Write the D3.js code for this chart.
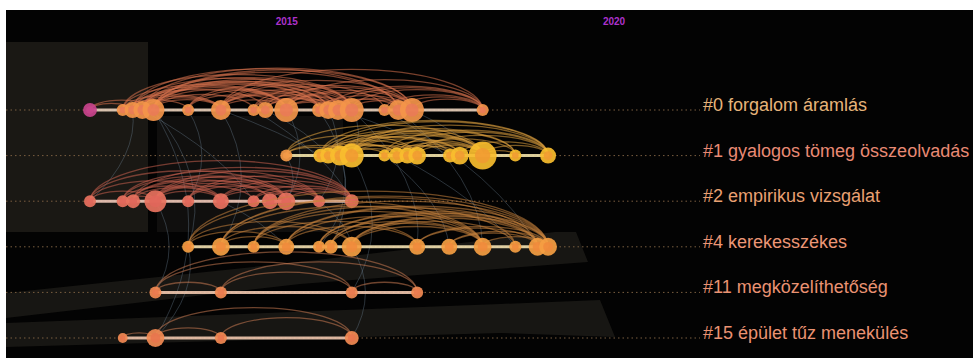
<!DOCTYPE html>
<html>
<head>
<meta charset="utf-8">
<script src="https://cdn.jsdelivr.net/npm/d3@7"></script>
<style>
    html, body { margin: 0; padding: 0; background: #fff; }
    svg { display: block; }
</style>
</head>
<body>
<svg id="chart" width="973" height="360"></svg>
<script>
// cluster rows of the timeline view
const clusterIds = ["#0", "#1", "#2", "#4", "#11", "#15"];
const clusterLabels = [
    "forgalom áramlás",
    "gyalogos tömeg összeolvadás",
    "empirikus vizsgálat",
    "kerekesszékes",
    "megközelíthetőség",
    "épület tűz menekülés",
];
const yearTicks = [2015, 2020];

// publication year and citation count of every node, per cluster
const c0Years = [2012, 2012.5, 2012.65, 2012.8, 2012.97, 2013.5, 2014, 2014.5, 2014.68, 2015, 2015.5, 2015.64, 2015.79, 2016, 2016.5, 2016.71, 2016.92, 2018];
const c0Cites = [12, 9, 16, 20, 30, 9, 25, 9, 16, 36, 12, 20, 25, 36, 9, 25, 36, 9];
const c1Years = [2015, 2015.52, 2015.64, 2015.82, 2016, 2016.5, 2016.69, 2016.85, 2017, 2017.5, 2017.65, 2018, 2018.5, 2019];
const c1Cites = [9, 12, 16, 25, 36, 9, 16, 16, 20, 12, 20, 49, 9, 16];
const c2Years = [2012, 2012.5, 2012.66, 2013, 2013.5, 2014, 2014.5, 2014.75, 2015, 2015.5, 2016];
const c2Cites = [9, 9, 12, 30, 9, 16, 9, 16, 20, 9, 12];
const c4Years = [2013.5, 2014, 2014.5, 2015, 2015.5, 2015.68, 2016, 2017, 2017.49, 2018, 2018.5, 2018.84, 2019];
const c4Cites = [9, 20, 9, 16, 9, 12, 25, 16, 16, 20, 9, 20, 20];
const c11Years = [2013, 2014, 2016, 2017];
const c11Cites = [9, 9, 9, 9];
const c15Years = [2012.5, 2013, 2014, 2016];
const c15Cites = [6, 20, 9, 12];

// co-citation links inside a cluster (node index pairs)
const c0Links = [
    [0, 4], [1, 6], [2, 9], [3, 13], [4, 16], [1, 9], [2, 6], [3, 10], [4, 13], [4, 9],
    [5, 9], [6, 13], [6, 16], [6, 12], [7, 13], [8, 16], [9, 16], [9, 13], [10, 16], [11, 17],
    [12, 17], [13, 17], [9, 17], [6, 17], [4, 12], [3, 11], [2, 8], [1, 5], [4, 6], [6, 9],
    [9, 12], [13, 16], [5, 13], [7, 11], [8, 13], [3, 16], [2, 15], [4, 10], [6, 10], [8, 12],
    [10, 13], [11, 15], [12, 16], [14, 17], [15, 17], [16, 17], [4, 7], [1, 3], [0, 2], [3, 6],
    [4, 15], [6, 14], [9, 15], [2, 12], [5, 10], [7, 16], [4, 11], [3, 9], [6, 11], [1, 13],
];
const c1Links = [
    [0, 4], [0, 11], [1, 8], [2, 11], [3, 10], [4, 11], [4, 13], [1, 4], [2, 6], [3, 7],
    [4, 8], [5, 11], [6, 11], [7, 12], [8, 13], [1, 11], [2, 9], [3, 11], [4, 10], [5, 9],
    [6, 10], [9, 11], [10, 13], [11, 13], [11, 12], [4, 6], [0, 3], [1, 13], [3, 12], [7, 11],
    [8, 11], [2, 13], [5, 13], [6, 13], [4, 12], [0, 8], [1, 6], [2, 4], [3, 5],
];
const c2Links = [
    [0, 3], [0, 8], [1, 5], [1, 9], [2, 8], [3, 8], [3, 10], [3, 5], [4, 8], [5, 10],
    [5, 9], [6, 10], [7, 10], [8, 10], [2, 5], [3, 7], [1, 3], [4, 9], [0, 5], [2, 10],
    [3, 9], [5, 8], [6, 9], [0, 10], [1, 8], [2, 7], [4, 10], [3, 6],
];
const c4Links = [
    [0, 6], [0, 12], [1, 9], [1, 12], [2, 10], [3, 11], [4, 12], [5, 9], [6, 12], [6, 11],
    [1, 6], [2, 7], [3, 9], [4, 9], [6, 9], [7, 12], [8, 12], [9, 12], [1, 3], [0, 3],
    [3, 7], [5, 11], [2, 12], [1, 11], [6, 10], [4, 11], [8, 11], [7, 11], [3, 12], [0, 9],
    [2, 9], [5, 12],
];
const c11Links = [[0, 1], [0, 2], [0, 3], [1, 2], [1, 3], [2, 3]];
const c15Links = [[0, 1], [1, 2], [1, 3], [2, 3]];

// links between clusters: [cluster, node, cluster, node]
const crossLinks = [
    [0, 4, 5, 1], [0, 9, 2, 8], [0, 13, 1, 4], [1, 4, 4, 2], [3, 6, 5, 3], [0, 6, 3, 1],
    [0, 5, 2, 4], [2, 3, 4, 0], [0, 10, 3, 5], [0, 13, 3, 7], [0, 16, 1, 11], [0, 12, 1, 9],
    [0, 3, 2, 6], [1, 0, 2, 8], [0, 7, 2, 10], [2, 9, 3, 6], [0, 15, 3, 9], [1, 6, 3, 10],
    [0, 4, 3, 0], [3, 0, 5, 1], [0, 2, 2, 0], [0, 8, 1, 2], [0, 11, 2, 9], [1, 5, 3, 8],
    [0, 14, 3, 11], [2, 5, 3, 3], [0, 6, 1, 1], [1, 3, 3, 4],
];

const nodeYears = [c0Years, c1Years, c2Years, c4Years, c11Years, c15Years];
const nodeCites = [c0Cites, c1Cites, c2Cites, c4Cites, c11Cites, c15Cites];
const nodeLinks = [c0Links, c1Links, c2Links, c4Links, c11Links, c15Links];

const clusters = clusterIds.map((id, i) => ({
    id: id,
    label: `${id} ${clusterLabels[i]}`,
    nodes: nodeYears[i].map((year, j) => ({ year: year, cites: nodeCites[i][j] })),
    links: nodeLinks[i],
}));

// styles
const STYLE = [
    { outer: "#f4954a", inner: "#ea7a58", arc: "#d9734e", bar: "#ead2bc", text: "#e6b47a" },
    { outer: "#f8bd2e", inner: "#f19a32", arc: "#e0a240", bar: "#f2e2a8", text: "#e98a74" },
    { outer: "#e8725e", inner: "#e0665a", arc: "#c8604e", bar: "#efc8b8", text: "#e9a072" },
    { outer: "#f59e42", inner: "#f08a3c", arc: "#c8843e", bar: "#f2e0b0", text: "#ec9676" },
    { outer: "#f28a52", inner: "#ea7a50", arc: "#c97a52", bar: "#efc6ae", text: "#ea9272" },
    { outer: "#f28a52", inner: "#e8744e", arc: "#c97a52", bar: "#efc6ae", text: "#ea9272" },
];
const nodeColorOverride = { "0-0": "#c8448c", "1-0": "#f39a48" };

const width = 973;
const height = 360;
const svg = d3.select("#chart");

const x = d3.scaleLinear().domain([2012, 2020]).range([90, 613.5]);
const y = d3.scalePoint().domain(clusterIds).range([110, 338]);
const r = d3.scaleSqrt().domain([0, 49]).range([0, 14]);

// dark canvas and the faint grey shapes left behind the timeline
svg.append("rect")
    .attr("x", 6)
    .attr("y", 10)
    .attr("width", width - 6)
    .attr("height", 348)
    .attr("fill", "#030303");

const bg = svg.append("g").attr("id", "backdrop");
bg.append("rect")
    .attr("x", 6).attr("y", 42)
    .attr("width", 142).attr("height", 190)
    .attr("fill", "#1a1814");
bg.append("rect")
    .attr("x", 157).attr("y", 116)
    .attr("width", 186).attr("height", 116)
    .attr("fill", "#100f0e");
const bandLine = d3.line();
bg.append("path")
    .attr("d", bandLine([[6, 293], [300, 262], [555, 232], [576, 232], [588, 262], [300, 284], [6, 318]]) + "Z")
    .attr("fill", "#171613");
bg.append("path")
    .attr("d", bandLine([[6, 323], [500, 304], [600, 300], [615, 337], [500, 333], [6, 347]]) + "Z")
    .attr("fill", "#171613");

// year axis on top
const axis = svg.append("g")
    .attr("transform", "translate(0,28)")
    .call(d3.axisTop(x).tickValues(yearTicks).tickFormat(d3.format("d")).tickSize(0).tickPadding(3));
axis.select(".domain").remove();
axis.selectAll("text")
    .attr("fill", "#ac32cc")
    .style("font-family", "Liberation Sans, Arial, sans-serif")
    .style("font-size", "10px")
    .style("font-weight", "bold");

// dotted guide per cluster
svg.append("g")
    .attr("id", "guides")
    .selectAll("line")
    .data(clusters)
    .enter()
    .append("line")
    .attr("x1", 6)
    .attr("x2", 700)
    .attr("y1", (d) => y(d.id))
    .attr("y2", (d) => y(d.id))
    .attr("stroke", "#7a5e40")
    .attr("stroke-width", 1)
    .attr("stroke-dasharray", "1.5,3");

// links between clusters
const nodePos = (ci, ni) => [x(clusters[ci].nodes[ni].year), y(clusters[ci].id)];
svg.append("g")
    .attr("id", "cross-links")
    .selectAll("path")
    .data(crossLinks)
    .enter()
    .append("path")
    .attr("d", (d) => {
        const [x1, y1] = nodePos(d[0], d[1]);
        const [x2, y2] = nodePos(d[2], d[3]);
        const p = d3.path();
        p.moveTo(x1, y1);
        p.quadraticCurveTo((x1 + x2) / 2 + (y2 - y1) * 0.3, (y1 + y2) / 2, x2, y2);
        return p.toString();
    })
    .attr("fill", "none")
    .attr("stroke", "#71869a")
    .attr("stroke-width", 0.8)
    .attr("stroke-opacity", 0.45);

// arcs inside clusters
const rows = svg.append("g").attr("id", "rows");
clusters.forEach((c, ci) => {
    const rowY = y(c.id);
    const g = rows.append("g").attr("class", "cluster-row");

    g.selectAll("path.arc")
        .data(c.links)
        .enter()
        .append("path")
        .attr("class", "arc")
        .attr("d", (d) => {
            const x1 = x(c.nodes[d[0]].year);
            const x2 = x(c.nodes[d[1]].year);
            const rx = (x2 - x1) / 2;
            const ry = (x2 - x1) * 0.155;
            return `M${x1},${rowY}A${rx},${ry} 0 0 1 ${x2},${rowY}`;
        })
        .attr("fill", "none")
        .attr("stroke", STYLE[ci].arc)
        .attr("stroke-width", 1.3)
        .attr("stroke-opacity", 0.55);

    const ext = d3.extent(c.nodes, (d) => d.year);
    g.append("line")
        .attr("x1", x(ext[0]))
        .attr("x2", x(ext[1]))
        .attr("y1", rowY)
        .attr("y2", rowY)
        .attr("stroke", STYLE[ci].bar)
        .attr("stroke-width", 3)
        .attr("stroke-opacity", 0.9);

    const nodes = g.selectAll("g.node")
        .data(c.nodes)
        .enter()
        .append("g")
        .attr("class", "node")
        .attr("transform", (d) => `translate(${x(d.year)},${rowY})`);
    nodes.append("circle")
        .attr("r", (d) => r(d.cites))
        .attr("fill", (d, i) => nodeColorOverride[`${ci}-${i}`] || STYLE[ci].outer)
        .attr("fill-opacity", 0.92);
    nodes.append("circle")
        .attr("r", (d) => r(d.cites) * 0.55)
        .attr("fill", (d, i) => nodeColorOverride[`${ci}-${i}`] || STYLE[ci].inner)
        .attr("fill-opacity", 0.85);
});

// cluster labels
svg.append("g")
    .attr("id", "labels")
    .selectAll("text")
    .data(clusters)
    .enter()
    .append("text")
    .attr("x", 703)
    .attr("y", (d) => y(d.id) + 1)
    .attr("fill", (d, i) => STYLE[i].text)
    .style("font-family", "Liberation Sans, Arial, sans-serif")
    .style("font-size", "18px")
    .text((d) => d.label);

// white frame the screenshot shows on the top, left and bottom
svg.append("rect").attr("x", 0).attr("y", 0).attr("width", width).attr("height", 10).attr("fill", "#fff");
svg.append("rect").attr("x", 0).attr("y", 0).attr("width", 6).attr("height", height).attr("fill", "#fff");
svg.append("rect").attr("x", 0).attr("y", 358).attr("width", width).attr("height", 2).attr("fill", "#fff");
</script>
</body>
</html>
